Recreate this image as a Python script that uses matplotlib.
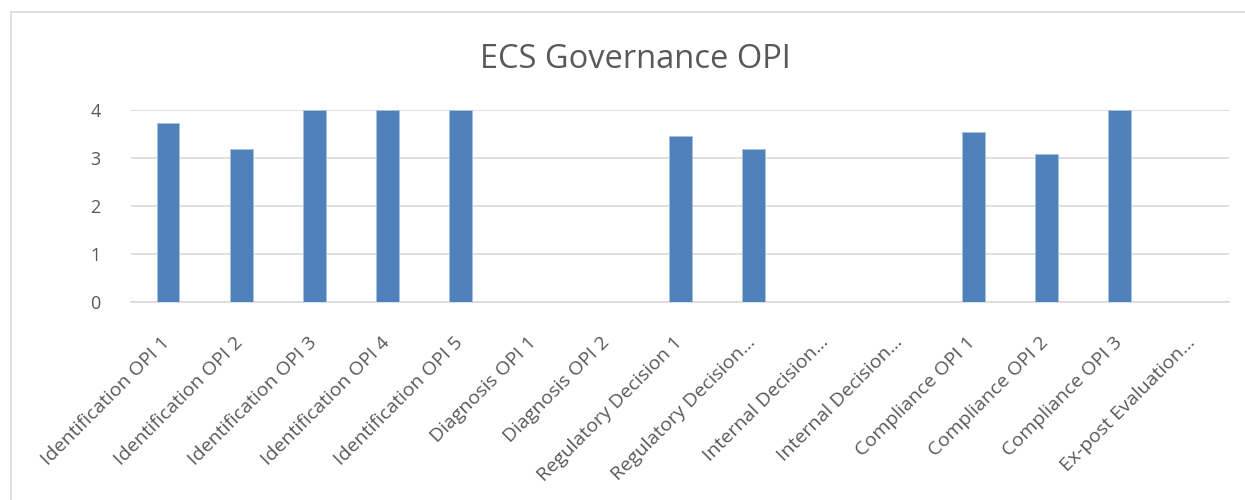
import matplotlib
matplotlib.use('Agg')
from matplotlib import pyplot as plt
from matplotlib.patches import Rectangle
from matplotlib.transforms import ScaledTranslation

plt.rcParams['font.family'] = ['Open Sans', 'DejaVu Sans']

categories = ['Identification OPI 1', 'Identification OPI 2', 'Identification OPI 3',
              'Identification OPI 4', 'Identification OPI 5', 'Diagnosis OPI 1',
              'Diagnosis OPI 2', 'Regulatory Decision 1', 'Regulatory Decision…',
              'Internal Decision…', 'Internal Decision…', 'Compliance OPI 1',
              'Compliance OPI 2', 'Compliance OPI 3', 'Ex-post Evaluation…']
values = [3.72, 3.18, 4, 4, 4, 0, 0, 3.45, 3.18, 0, 0, 3.54, 3.08, 4, 0]
yticks = [0, 1, 2, 3, 4]

text_col = '#595959'
grid_col = '#D9D9D9'

fig = plt.figure(figsize=(12.45, 5), dpi=100)
ax = fig.add_axes([0.1055, 0.396, 0.882, 0.384])

x = range(len(categories))
ax.bar(x, values, width=0.31, color='#4F81BD', edgecolor='#A9C1E0', linewidth=0.6, zorder=3)

ax.set_xlim(-0.5, len(categories) - 0.5)
ax.set_ylim(0, 4)
ax.set_yticks(yticks)
ax.set_yticklabels([str(v) for v in yticks], fontsize=13, color=text_col)
ax.set_xticks(list(x))
ax.set_xticklabels(categories, rotation=45, ha='right', rotation_mode='anchor',
                   fontsize=14, color=text_col)
ax.tick_params(axis='both', length=0)
ax.tick_params(axis='y', pad=22)
ax.tick_params(axis='x', pad=8)
# przesuwamy podpisy w dół, jak w Excelu
shift = ScaledTranslation(-0.07, -0.20, fig.dpi_scale_trans)
for lbl in ax.get_xticklabels():
    lbl.set_transform(lbl.get_transform() + shift)
ax.grid(axis='y', color=grid_col, linewidth=1.2, zorder=0)
for s in ['top', 'right', 'left']:
    ax.spines[s].set_visible(False)
ax.spines['bottom'].set_color(grid_col)
ax.spines['bottom'].set_linewidth(1.2)

fig.text(0.51, 0.88, 'ECS Governance OPI', ha='center', va='center', fontsize=23.5, color=text_col)

# ramka wokół wykresu (prawa i dolna krawędź poza obrazkiem)
fig.patches.append(Rectangle((0.0088, -0.1), 1.2, 1.076, transform=fig.transFigure,
                             fill=False, edgecolor=grid_col, linewidth=1.2))

fig.savefig('out.png', dpi=100)
